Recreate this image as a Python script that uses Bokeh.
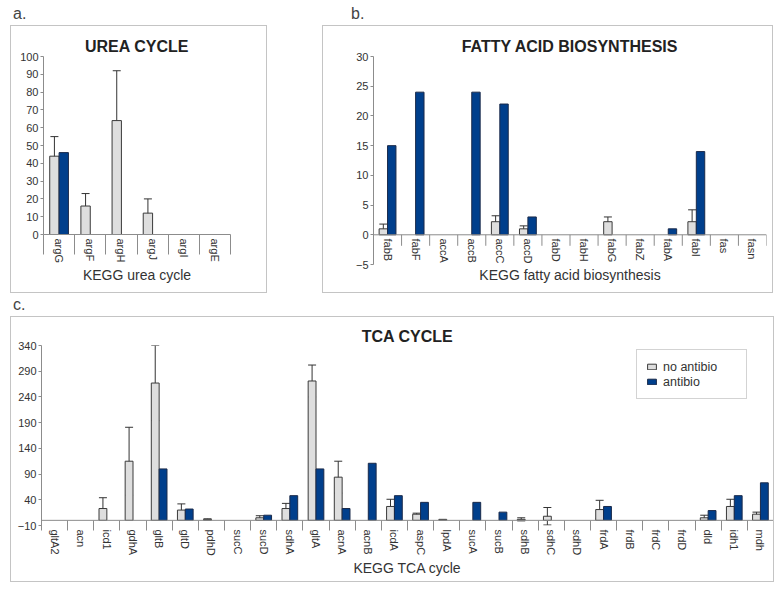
import numpy as np
from bokeh.plotting import figure
from bokeh.models import (ColumnDataSource, Whisker, TeeHead, FixedTicker, Div,
                          Legend, LegendItem, Range1d, Span)
from bokeh.layouts import column, row
from bokeh.embed import file_html
from bokeh.resources import INLINE

# ---------------- data ----------------
urea_genes = ["argG", "argF", "argH", "argJ", "argI", "argE"]
urea_no = [44, 16, 64, 12, 0, 0]
urea_no_err = [11, 7, 28, 8, 0, 0]
urea_ab = [46, 0, 0, 0, 0, 0]
urea_ticks = [0, 10, 20, 30, 40, 50, 60, 70, 80, 90, 100]

fa_genes = ["fabB", "fabF", "accA", "accB", "accC", "accD", "fabD", "fabH",
            "fabG", "fabZ", "fabA", "fabI", "fas", "fasn"]
fa_no = [1.0, 0, 0, 0, 2.2, 1.0, 0, 0, 2.2, 0, 0, 2.2, 0, 0]
fa_no_err = [0.8, 0, 0, 0, 1.0, 0.5, 0, 0, 0.8, 0, 0, 2.0, 0, 0]
fa_ab = [15, 24, 0, 24, 22, 3, 0, 0, 0, 0, 1, 14, 0, 0]
fa_ticks = [-5, 0, 5, 10, 15, 20, 25, 30]

tca_genes = ["gltA2", "acn", "icd1", "gdhA", "gltB", "gltD", "pdhD", "sucC",
             "sucD", "sdhA", "gltA", "acnA", "acnB", "icdA", "aspC", "lpdA",
             "sucA", "sucB", "sdhB", "sdhC", "sdhD", "frdA", "frdB", "frdC",
             "frdD", "dld", "idh1", "mdh"]
tca_no = [0, 0, 23, 115, 267, 20, 2, 0, 5, 23, 271, 84, 0, 27, 12, 2,
          0, 0, 2, 8, 0, 21, 0, 0, 0, 5, 27, 12]
tca_no_err = [0, 0, 21, 66, 73, 12, 1, 0, 4, 10, 31, 31, 0, 14, 2, 0,
              0, 0, 3, 17, 0, 18, 0, 0, 0, 5, 14, 4]
tca_ab = [0, 0, 0, 0, 100, 22, 0, 0, 10, 48, 100, 23, 111, 48, 35, 0,
          35, 16, 0, 0, 0, 27, 0, 0, 0, 19, 48, 73]
tca_ticks = [-10, 40, 90, 140, 190, 240, 290, 340]

series_names = ["no antibio", "antibio"]

FONT = "Liberation Sans"
GRAY = "#dedede"
BLUE = "#003f8c"
EDGE = "#3a3a3a"
AXIS = "#8c8c8c"
TXT = "#333333"
BOX = "1px solid #c4c4c4"


def panel(genes, no, err, ab, title, xlabel, yr, yticks, w, h,
          bl, br, bt, bb, title_standoff, mode, tick_in, tick_out,
          lab_standoff, axlab_standoff, sep_px=0):
    n = len(genes)
    p = figure(width=w, height=h, output_backend="svg", toolbar_location=None,
               x_range=Range1d(-0.5, n - 0.5), y_range=Range1d(*yr),
               min_border_left=bl, min_border_right=br,
               min_border_top=bt, min_border_bottom=bb,
               margin=(0, 0, 0, 0), styles={"border": BOX})
    p.outline_line_color = None
    p.xgrid.visible = False
    p.ygrid.visible = False
    p.background_fill_alpha = 0
    p.border_fill_alpha = 0

    idx = np.arange(n)
    no = np.asarray(no, float)
    err = np.asarray(err, float)
    ab = np.asarray(ab, float)
    bounds = np.arange(n + 1) - 0.5

    # baseline / separators when the category axis crosses at zero
    if mode != "bottom":
        p.add_layout(Span(location=0, dimension="width", line_color=AXIS,
                          line_width=1))
    if mode == "inner":
        frame_h = h - bt - bb
        sep_data = sep_px * (yr[1] - yr[0]) / frame_h
        p.segment(x0=bounds, y0=np.zeros(n + 1), x1=bounds,
                  y1=np.full(n + 1, -sep_data), line_color=AXIS, line_width=1)

    m1 = no != 0
    src_no = ColumnDataSource(dict(x=idx[m1] - 0.15, top=no[m1]))
    m2 = ab != 0
    src_ab = ColumnDataSource(dict(x=idx[m2] + 0.15, top=ab[m2]))
    m3 = err != 0
    src_err = ColumnDataSource(dict(x=idx[m3] - 0.15,
                                    upper=(no + err)[m3], lower=(no - err)[m3]))

    r_no = p.vbar(x="x", top="top", bottom=0, width=0.3, source=src_no,
                  fill_color=GRAY, line_color=EDGE, line_width=1)
    r_ab = p.vbar(x="x", top="top", bottom=0, width=0.3, source=src_ab,
                  fill_color=BLUE, line_color="#1a2a4a", line_width=1)
    wk = Whisker(source=src_err, base="x", upper="upper", lower="lower",
                 line_color="#333333", line_width=1,
                 upper_head=TeeHead(size=8, line_color="#333333", line_width=1),
                 lower_head=TeeHead(size=8, line_color="#333333", line_width=1))
    p.add_layout(wk)

    p.title.text = title
    p.title.align = "center"
    p.title.text_font = FONT
    p.title.text_font_size = "16px"
    p.title.text_font_style = "bold"
    p.title.text_color = "#222222"
    p.title.standoff = title_standoff

    xa = p.xaxis[0]
    if mode == "inner":
        xa.ticker = FixedTicker(ticks=list(idx), minor_ticks=[])
        xa.minor_tick_line_color = None
        xa.minor_tick_out = 0
        xa.minor_tick_in = 0
    else:
        xa.ticker = FixedTicker(ticks=list(idx), minor_ticks=list(bounds))
        xa.minor_tick_out = tick_out
        xa.minor_tick_in = tick_in
        xa.minor_tick_line_color = AXIS
    xa.major_label_overrides = {int(i): g for i, g in zip(idx, genes)}
    xa.major_label_orientation = "vertical"
    xa.major_tick_out = 0
    xa.major_tick_in = 0
    xa.major_tick_line_color = None
    xa.axis_line_color = AXIS if mode == "bottom" else None
    xa.major_label_text_font = FONT
    xa.major_label_text_font_size = "11px"
    xa.major_label_text_color = TXT
    xa.major_label_standoff = lab_standoff
    xa.axis_label = xlabel
    xa.axis_label_text_font = FONT
    xa.axis_label_text_font_size = "14px"
    xa.axis_label_text_font_style = "normal"
    xa.axis_label_text_color = TXT
    xa.axis_label_standoff = axlab_standoff

    ya = p.yaxis[0]
    ya.ticker = FixedTicker(ticks=yticks)
    ya.major_tick_out = 3
    ya.major_tick_in = 0
    ya.minor_tick_line_color = None
    ya.major_tick_line_color = AXIS
    ya.axis_line_color = AXIS
    ya.major_label_text_font = FONT
    ya.major_label_text_font_size = "11px"
    ya.major_label_text_color = TXT
    ya.major_label_standoff = 2
    return p, r_no, r_ab


pa, _, _ = panel(urea_genes, urea_no, urea_no_err, urea_ab, "UREA CYCLE",
                 "KEGG urea cycle", (0, 100), urea_ticks, 257, 268,
                 32, 38, 30, 60, 3, "bottom", 0, 20, -16, 1)
pb, _, _ = panel(fa_genes, fa_no, fa_no_err, fa_ab, "FATTY ACID BIOSYNTHESIS",
                 "KEGG fatty acid biosynthesis", (-5, 30), fa_ticks, 451, 268,
                 50, 8, 30, 30, 3, "inner", 0, 0, -26, 0, sep_px=11)
pc, rno, rab = panel(tca_genes, tca_no, tca_no_err, tca_ab, "TCA CYCLE",
                     "KEGG TCA cycle", (-10, 340), tca_ticks, 764, 266,
                     30, 2, 28, 58, 1, "near", 5, 5, -1, 1)

legend = Legend(items=[LegendItem(label=series_names[0], renderers=[rno]),
                       LegendItem(label=series_names[1], renderers=[rab])],
                location=(595, 126), orientation="vertical")
legend.border_line_color = "#a8a8a8"
legend.border_line_width = 1
legend.background_fill_color = "white"
legend.padding = 9
legend.margin = 0
legend.spacing = 0
legend.label_height = 15
legend.glyph_height = 7
legend.glyph_width = 11
legend.label_standoff = 6
legend.label_width = 74
legend.label_text_font = FONT
legend.label_text_font_size = "12.5px"
legend.label_text_color = TXT
pc.add_layout(legend, "center")

lab_style = {"font-family": FONT, "font-size": "16px", "color": "#444444"}
div_a = Div(text="a.", width=257, height=17, margin=(0, 0, 0, 2),
            styles=dict(lab_style, **{"line-height": "11px", "padding-left": "3px"}))
div_b = Div(text="b.", width=451, height=17, margin=(0, 0, 0, 0),
            styles=dict(lab_style, **{"line-height": "11px", "padding-left": "29px"}))
div_c = Div(text="c.", width=764, height=23, margin=(0, 0, 0, 2),
            styles=dict(lab_style, **{"line-height": "23px", "padding-left": "3px"}))

pa.margin = (0, 0, 0, 2)
col_a = column(div_a, pa, spacing=0, margin=(0, 0, 0, 0))
col_b = column(div_b, pb, spacing=0, margin=(0, 0, 0, 55))
top = row(col_a, col_b, spacing=0, margin=(0, 0, 0, 0))
pc.margin = (0, 0, 0, 2)
layout = column(top, div_c, pc, spacing=0, margin=(8, 0, 0, 8))

open("out.html", "w").write(file_html(layout, INLINE))
